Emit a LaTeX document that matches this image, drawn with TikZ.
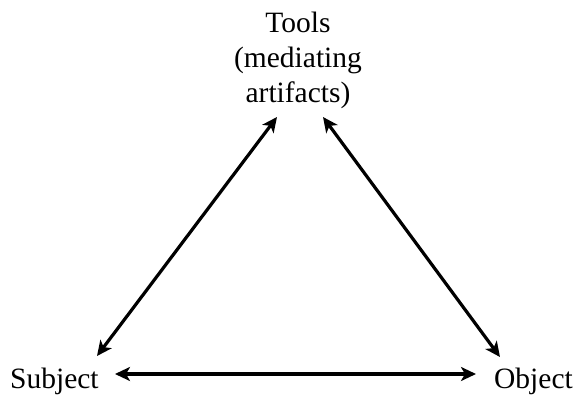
\documentclass[tikz,border=0pt]{standalone}
\usepackage{fontspec}
\setmainfont{Liberation Serif}
\usetikzlibrary{arrows.meta}
\begin{document}
\begin{tikzpicture}[x=1pt,y=-1pt,
  lbl/.style={inner sep=0pt,font=\fontsize{29.5}{35}\selectfont,align=center},
  link/.style={line width=3.2pt,{Stealth[length=15pt,width=14pt,inset=4pt]}-{Stealth[length=15pt,width=14pt,inset=4pt]}}]
\useasboundingbox (0,0) rectangle (574,395);
\node[lbl,anchor=base] (tools) at (298,103) {Tools\\(mediating\\artifacts)};
\node[lbl,anchor=base west] (subj) at (10,389) {Subject};
\node[lbl,anchor=base east] (obj) at (573,389) {Object};
\coordinate (t1) at (277,117);
\coordinate (t2) at (323,117);
\coordinate (s1) at (97,356);
\coordinate (s2) at (115,374);
\coordinate (o1) at (500,357);
\coordinate (o2) at (476,374);
\draw[link] (s1) -- (t1);
\draw[link] (t2) -- (o1);
\draw[link] (s2) -- (o2);
\end{tikzpicture}
\end{document}
